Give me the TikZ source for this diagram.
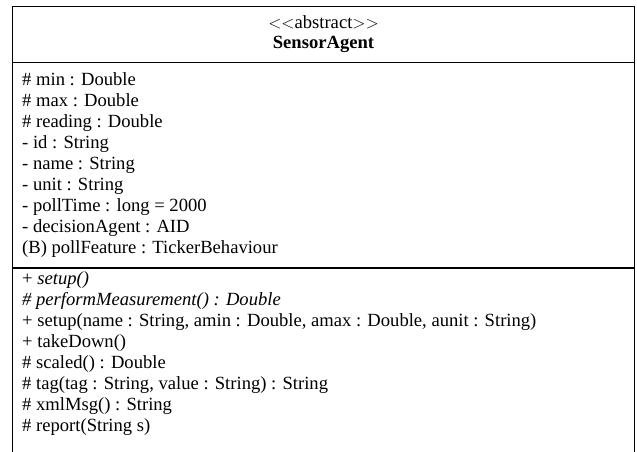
\documentclass[tikz,border=0pt]{standalone}
\usepackage{fontspec}
\setmainfont{Liberation Serif}
\begin{document}
\begin{tikzpicture}[x=1pt,y=-1pt,
  member/.style={anchor=base west,inner sep=0pt,font=\fontsize{18.6}{21}\selectfont},
  title/.style={anchor=base,inner sep=0pt,font=\fontsize{18.6}{21}\selectfont},
  frame/.style={draw=black,line width=1.3pt}]
\useasboundingbox (0,0) rectangle (637,451);
% class frame, open at the bottom
\draw[frame] (12.5,452) -- (12.5,6.5) -- (634.5,6.5) -- (634.5,452);
\draw[frame] (12.5,62.5) -- (634.5,62.5);
\draw[frame] (12.5,268) -- (634.5,268);
% header
\node[title] (stereo) at (323.5,28) {$<<$abstract$>>$};
\node[title,font=\fontsize{18.6}{21}\selectfont\bfseries] (cname) at (323.5,48) {SensorAgent};
% attributes
\foreach \t [count=\i from 0] in {%
  \# min : Double,
  \# max : Double,
  \# reading : Double,
  - id : String,
  - name : String,
  - unit : String,
  - pollTime : long = 2000,
  - decisionAgent : AID,
  (B) pollFeature : TickerBehaviour}
  \node[member] (attr\i) at (22,85+21.1*\i) {\t};
% operations
\node[member] (op0) at (22,284) {+ \textit{setup()}};
\node[member] (op1) at (22,284+21.1) {\textit{\# performMeasurement() : Double}};
\node[member] (op2) at (22,284+2*21.1) {+ setup(name : String, amin : Double, amax : Double, aunit : String)};
\node[member] (op3) at (22,284+3*21.1) {+ takeDown()};
\node[member] (op4) at (22,284+4*21.1) {\# scaled() : Double};
\node[member] (op5) at (22,284+5*21.1) {\# tag(tag : String, value : String) : String};
\node[member] (op6) at (22,284+6*21.1) {\# xmlMsg() : String};
\node[member] (op7) at (22,284+7*21.1) {\# report(String s)};
\end{tikzpicture}
\end{document}
